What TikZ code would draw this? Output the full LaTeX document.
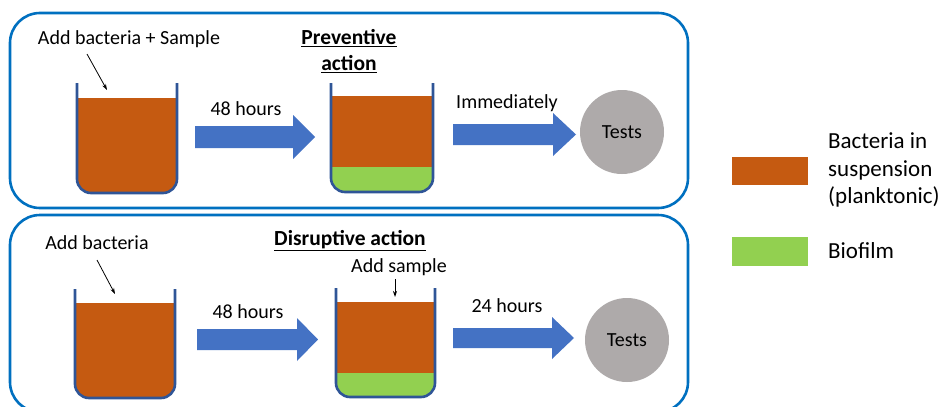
\documentclass[tikz,border=0pt]{standalone}
\usepackage{fontspec}
\setmainfont{Carlito}
\usetikzlibrary{arrows.meta}
\definecolor{boxblue}{HTML}{0070C0}
\definecolor{arrblue}{HTML}{4472C4}
\definecolor{wallblue}{HTML}{2F5597}
\definecolor{liqorange}{HTML}{C55A11}
\definecolor{biogreen}{HTML}{92D050}
\definecolor{testgray}{HTML}{AEAAAA}
\newcommand\mybeaker[6]{%
  \begin{scope}
    \clip[rounded corners=14] (#1,#3-30) -- (#1,#4) -- (#2,#4) -- (#2,#3-30) -- cycle;
    \fill[liqorange] (#1,#5) rectangle (#2,#4+2);
    \ifx\relax#6\relax\else\fill[biogreen] (#1,#6) rectangle (#2,#4+2);\fi
  \end{scope}
  \draw[wall] (#1,#3) -- (#1,#4) -- (#2,#4) -- (#2,#3);
}
\newcommand\fatarrow[7]{% x0 xh xtip ys1 ys2 yh1 yh2
  \fill[arrblue] (#1,#4) -- (#2,#4) -- (#2,#6) -- (#3,{(#6+#7)/2}) -- (#2,#7) -- (#2,#5) -- (#1,#5) -- cycle;
}
\begin{document}
\begin{tikzpicture}[x=1pt,y=-1pt,
  frame/.style={draw=boxblue,line width=2.6pt,rounded corners=30},
  wall/.style={draw=wallblue,line width=2.6pt,rounded corners=14},
  lbl/.style={font=\fontsize{20}{24}\selectfont,inner sep=0pt},
  title/.style={font=\fontsize{21.5}{25}\selectfont\bfseries,inner sep=0pt,align=center},
  test/.style={circle,fill=testgray,minimum size=84pt,inner sep=0pt,font=\fontsize{20}{24}\selectfont},
  leg/.style={font=\fontsize{23}{27.5}\selectfont,inner sep=0pt,align=left,anchor=west},
  ptr/.style={-{Stealth[length=6pt,width=4pt]},line width=0.8pt}]
\useasboundingbox (0,0) rectangle (943,407);
\fill[white] (0,0) rectangle (943,407);
% frames
\draw[frame] (10,13) rectangle (688,208);
\draw[frame] (10,215) rectangle (688,412);
% top row
\node[lbl] (t1) at (129,39) {Add bacteria + Sample};
\coordinate (p1a) at (87,54);
\coordinate (p1b) at (107,90);
\draw[ptr] (p1a) -- (p1b);
\mybeaker{77}{177}{83}{193}{98}{}
\fatarrow{195}{293}{315}{126}{148}{115}{159}
\node[lbl] (h1) at (246,109) {48 hours};
\node[title] (prev) at (349,51) {\underline{Preventive}\\[1pt]\underline{action}};
\mybeaker{331}{433}{83}{192}{96}{167}
\fatarrow{453}{553}{576}{124}{145}{113}{156}
\node[lbl] (imm) at (507,103) {Immediately};
\node[test] (test1) at (622,132) {Tests};
% bottom row
\node[lbl] (t2) at (97,243) {Add bacteria};
\coordinate (p2a) at (97,260);
\coordinate (p2b) at (115,294);
\draw[ptr] (p2a) -- (p2b);
\mybeaker{75}{175}{289}{398}{303}{}
\fatarrow{197}{297}{318}{329}{350}{318}{361}
\node[lbl] (h2) at (248,312) {48 hours};
\node[title] (disr) at (350,241) {\underline{Disruptive action}};
\node[lbl] (addsamp) at (399,267) {Add sample};
\coordinate (p3a) at (395,279);
\coordinate (p3b) at (395,297);
\draw[ptr] (p3a) -- (p3b);
\mybeaker{336}{435}{288}{397}{302}{373}
\fatarrow{453}{552}{574}{328}{348}{317}{359}
\node[lbl] (h3) at (507,306) {24 hours};
\node[test] (test2) at (627,340) {Tests};
% legend
\fill[liqorange] (732,157) rectangle (808,185);
\node[leg] (legA) at (828,170) {Bacteria in\\suspension\\(planktonic)};
\fill[biogreen] (732,237) rectangle (808,266);
\node[leg] (legB) at (828,251) {Biofilm};
\end{tikzpicture}
\end{document}
